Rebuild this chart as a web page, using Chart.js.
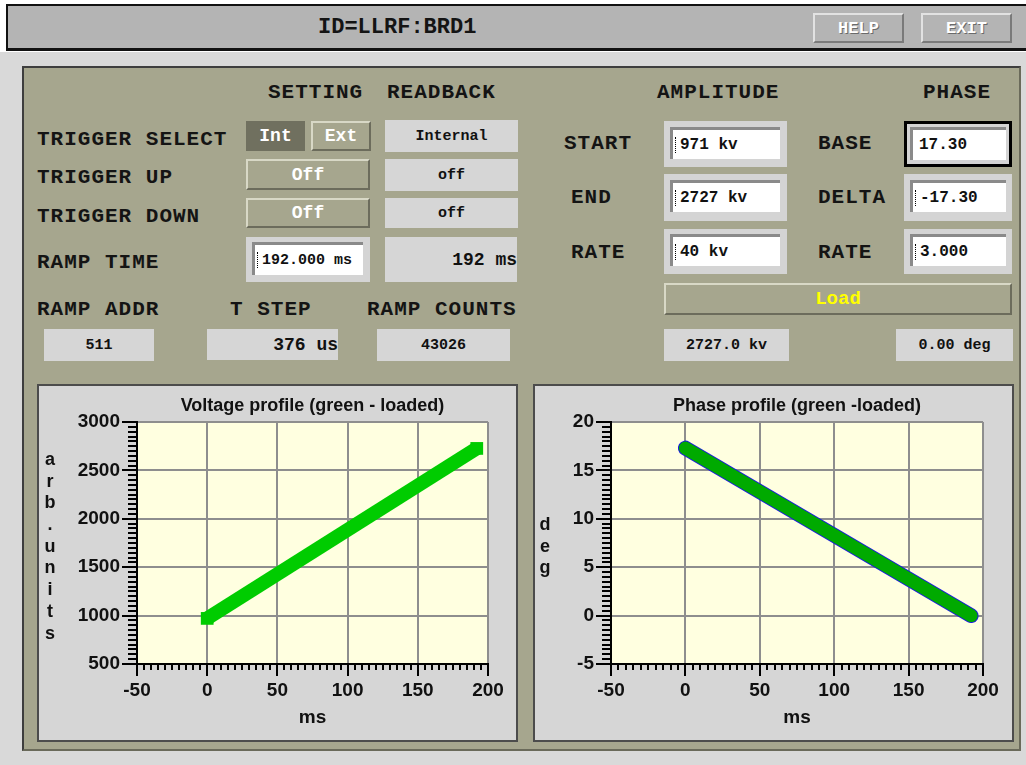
<!DOCTYPE html>
<html>
<head>
<meta charset="utf-8">
<script src="https://cdn.jsdelivr.net/npm/chart.js@4.4.1/dist/chart.umd.min.js"></script>
<style>
  html, body { margin: 0; padding: 0; }
  body { width: 1026px; height: 765px; position: relative; overflow: hidden; background: #fff; font-family: 'Liberation Mono', monospace; }
  .abs { position: absolute; box-sizing: border-box; }
  .lbl { position: absolute; font: bold 21px 'Liberation Mono', monospace; letter-spacing: 1px; color: #141414; line-height: 24px; white-space: pre; }
  .rb { position: absolute; box-sizing: border-box; background: #d6d6d6; display: flex; align-items: center; justify-content: center;
        font: bold 15px 'Liberation Mono', monospace; color: #111; white-space: pre; }
  .rb.big { font-size: 18px; justify-content: flex-end; padding-right: 0; }
  .btn { position: absolute; box-sizing: border-box; display: flex; align-items: center; justify-content: center;
         font: bold 18px 'Liberation Mono', monospace; color: #fff; background: #a6a68e;
         border: 2px solid; border-color: #d8d8c6 #6c6c5c #6c6c5c #d8d8c6; }
  .frame { position: absolute; box-sizing: border-box; background: #d4d4d4; }
  .field { position: absolute; box-sizing: border-box; background: #fff; border-top: 3px solid #8a8a8a; border-left: 3px solid #8a8a8a;
           display: flex; align-items: center; padding-left: 2px; font: bold 15px 'Liberation Mono', monospace; color: #111; white-space: pre; }
  .caret { display: inline-block; width: 3px; height: 16px; border-left: 1px dotted #000; margin-right: 1px; }
  .box { position: absolute; box-sizing: border-box; background: #d6d6d6; border: 2px solid #4c4c4c; }
  canvas { position: absolute; left: 0; top: 0; }
</style>
</head>
<body>
<!-- title bar -->
<div class="abs" style="left:6px;top:4px;width:1030px;height:47px;background:#b4b4b4;border:2px solid #111;border-bottom-width:3px;"></div>
<div class="lbl" style="left:318px;top:16px;font-family:'Liberation Mono';font-size:22px;letter-spacing:0px;">ID=LLRF:BRD1</div>
<div class="btn" style="left:813px;top:13px;width:91px;height:30px;background:#b4b4b4;border-color:#e2e2e2 #7a7a7a #7a7a7a #e2e2e2;text-shadow:1px 1px 0 #6a6a6a;font-size:17px;">HELP</div>
<div class="btn" style="left:921px;top:13px;width:91px;height:30px;background:#b4b4b4;border-color:#e2e2e2 #7a7a7a #7a7a7a #e2e2e2;text-shadow:1px 1px 0 #6a6a6a;font-size:17px;">EXIT</div>

<!-- work area -->
<div class="abs" style="left:0;top:52px;width:1026px;height:713px;background:#d9d9d9;"></div>
<div class="abs" style="left:22px;top:66px;width:999px;height:685px;background:#a6a68e;border:2px solid #3e3e3e;border-right-color:#6a6a5a;border-bottom-color:#6a6a5a;"></div>

<!-- headers -->
<div class="lbl" style="left:268px;top:81px;">SETTING</div>
<div class="lbl" style="left:387px;top:81px;">READBACK</div>
<div class="lbl" style="left:657px;top:81px;">AMPLITUDE</div>
<div class="lbl" style="left:923px;top:81px;">PHASE</div>

<div class="lbl" style="left:37px;top:128px;">TRIGGER SELECT</div>
<div class="lbl" style="left:37px;top:166px;">TRIGGER UP</div>
<div class="lbl" style="left:37px;top:205px;">TRIGGER DOWN</div>
<div class="lbl" style="left:37px;top:251px;">RAMP TIME</div>
<div class="lbl" style="left:37px;top:298px;">RAMP ADDR</div>
<div class="lbl" style="left:230px;top:298px;">T STEP</div>
<div class="lbl" style="left:367px;top:298px;">RAMP COUNTS</div>

<div class="lbl" style="left:564px;top:132px;">START</div>
<div class="lbl" style="left:571px;top:186px;">END</div>
<div class="lbl" style="left:571px;top:241px;">RATE</div>
<div class="lbl" style="left:818px;top:132px;">BASE</div>
<div class="lbl" style="left:818px;top:186px;">DELTA</div>
<div class="lbl" style="left:818px;top:241px;">RATE</div>

<!-- setting buttons -->
<div class="btn" style="left:246px;top:121px;width:59px;height:30px;background:#70705f;border-color:#70705f;">Int</div>
<div class="btn" style="left:311px;top:121px;width:60px;height:30px;">Ext</div>
<div class="btn" style="left:246px;top:159px;width:124px;height:31px;">Off</div>
<div class="btn" style="left:246px;top:198px;width:124px;height:30px;">Off</div>
<div class="frame" style="left:246px;top:237px;width:124px;height:45px;"></div>
<div class="field" style="left:252px;top:242px;width:111px;height:33px;"><span class="caret"></span>192.000 ms</div>

<!-- readbacks -->
<div class="rb" style="left:385px;top:120px;width:133px;height:32px;">Internal</div>
<div class="rb" style="left:385px;top:159px;width:133px;height:32px;">off</div>
<div class="rb" style="left:385px;top:198px;width:133px;height:30px;">off</div>
<div class="rb big" style="left:385px;top:237px;width:132px;height:45px;">192 ms</div>
<div class="rb" style="left:44px;top:329px;width:110px;height:32px;">511</div>
<div class="rb big" style="left:207px;top:329px;width:131px;height:31px;">376 us</div>
<div class="rb" style="left:377px;top:329px;width:133px;height:32px;">43026</div>
<div class="rb" style="left:664px;top:329px;width:125px;height:32px;">2727.0 kv</div>
<div class="rb" style="left:896px;top:329px;width:117px;height:32px;">0.00 deg</div>

<!-- amplitude / phase inputs -->
<div class="frame" style="left:664px;top:121px;width:123px;height:46px;"></div>
<div class="field" style="left:670px;top:127px;width:110px;height:32px;font-size:16px;"><span class="caret"></span>971 kv</div>
<div class="frame" style="left:664px;top:174px;width:123px;height:47px;"></div>
<div class="field" style="left:670px;top:180px;width:110px;height:32px;font-size:16px;"><span class="caret"></span>2727 kv</div>
<div class="frame" style="left:664px;top:229px;width:123px;height:45px;"></div>
<div class="field" style="left:670px;top:234px;width:110px;height:32px;font-size:16px;"><span class="caret"></span>40 kv</div>

<div class="frame" style="left:904px;top:121px;width:108px;height:46px;background:#d4d4d4;border:3px solid #000;"></div>
<div class="field" style="left:910px;top:127px;width:96px;height:33px;font-size:16px;padding-left:6px;">17.30</div>
<div class="frame" style="left:904px;top:174px;width:108px;height:47px;"></div>
<div class="field" style="left:910px;top:180px;width:96px;height:32px;font-size:16px;"><span class="caret"></span>-17.30</div>
<div class="frame" style="left:904px;top:229px;width:108px;height:45px;"></div>
<div class="field" style="left:910px;top:234px;width:96px;height:32px;font-size:16px;"><span class="caret"></span>3.000</div>

<div class="btn" style="left:664px;top:283px;width:348px;height:32px;color:#ffff00;font-size:19px;">Load</div>

<!-- charts -->
<div class="box" style="left:37px;top:384px;width:481px;height:358px;">
  <canvas id="voltChart" width="477" height="354"></canvas>
</div>
<div class="box" style="left:533px;top:384px;width:481px;height:358px;">
  <canvas id="phaseChart" width="477" height="354"></canvas>
</div>

<script>
// ramp profile values
const rampTimeMs = [0, 192];
const voltageKv = [971, 2727];
const phaseDeg = [17.3, 0];

const timeTicks = [-50, 0, 50, 100, 150, 200];
const voltTicks = [500, 1000, 1500, 2000, 2500, 3000];
const phaseTicks = [-5, 0, 5, 10, 15, 20];

const tickFont = { family: "'Liberation Sans', Arial, sans-serif", size: 19, weight: 'bold' };

// yellow plot area, chart title, stacked y title and minor ticks
const panelPlugin = {
    id: 'panelPlugin',
    beforeDraw(chart) {
        const a = chart.chartArea, ctx = chart.ctx;
        ctx.save();
        ctx.fillStyle = '#ffffe0';
        ctx.fillRect(a.left, a.top, a.right - a.left, a.bottom - a.top);
        ctx.restore();
    },
    afterDraw(chart, args, opts) {
        const a = chart.chartArea, ctx = chart.ctx;
        const xs = chart.scales.x, ys = chart.scales.y;
        ctx.save();
        ctx.fillStyle = '#111';
        ctx.font = "bold 18px 'Liberation Sans', Arial, sans-serif";
        ctx.textAlign = 'center';
        ctx.textBaseline = 'middle';
        ctx.fillText(opts.title, (a.left + a.right) / 2, 20);
        opts.yTitle.split('').forEach((c, i) => {
            ctx.fillText(c, opts.yTitleX, opts.yTitleTop + i * 21.7);
        });

        // minor ticks
        ctx.strokeStyle = '#000';
        ctx.lineWidth = 2;
        ctx.beginPath();
        for (let v = xs.min; v <= xs.max + 1e-9; v += opts.xMinor) {
            const px = Math.round(xs.getPixelForValue(v));
            ctx.moveTo(px, a.bottom);
            ctx.lineTo(px, a.bottom + 6);
        }
        for (let v = ys.min; v <= ys.max + 1e-9; v += opts.yMinor) {
            const py = Math.round(ys.getPixelForValue(v));
            ctx.moveTo(a.left, py);
            ctx.lineTo(a.left - 9, py);
        }
        ctx.stroke();
        ctx.restore();
    }
};

function makeScales(yTickList, yMin, yMax, yWidth) {
    return {
        x: {
            type: 'linear', min: -50, max: 200,
            afterBuildTicks: s => { s.ticks = timeTicks.map(v => ({ value: v })); },
            afterFit: s => { s.height = 76; },
            grid: { color: '#8e8e8e', lineWidth: 2, tickColor: '#000', tickLength: 12, tickWidth: 2 },
            border: { color: '#000', width: 2 },
            ticks: { font: tickFont, color: '#111', padding: 3, maxRotation: 0, callback: v => String(v) },
            title: { display: true, text: 'ms', font: tickFont, color: '#111', padding: { top: 0, bottom: 11 } }
        },
        y: {
            type: 'linear', min: yMin, max: yMax,
            afterBuildTicks: s => { s.ticks = yTickList.map(v => ({ value: v })); },
            afterFit: s => { s.width = yWidth; },
            grid: { color: '#8e8e8e', lineWidth: 2, tickColor: '#000', tickLength: 15, tickWidth: 2 },
            border: { color: '#000', width: 2 },
            ticks: { font: tickFont, color: '#111', padding: 2, callback: v => String(v) }
        }
    };
}

const baseOptions = {
    responsive: false,
    animation: false,
    events: [],
    plugins: { legend: { display: false }, tooltip: { enabled: false }, title: { display: false } }
};

new Chart(document.getElementById('voltChart'), {
    type: 'line',
    data: {
        datasets: [{
            data: rampTimeMs.map((t, i) => ({ x: t, y: voltageKv[i] })),
            borderColor: '#00cc00',
            borderWidth: 14,
            pointStyle: 'rect',
            pointRadius: 9,
            pointBackgroundColor: '#00cc00',
            pointBorderWidth: 0
        }]
    },
    options: Object.assign({}, baseOptions, {
        layout: { padding: { left: 0, top: 36, right: 28, bottom: 0 } },
        scales: makeScales(voltTicks, 500, 3000, 98),
        plugins: Object.assign({}, baseOptions.plugins, {
            panelPlugin: { title: 'Voltage profile (green - loaded)', yTitle: 'arb.units', yTitleX: 11, yTitleTop: 74, xMinor: 5, yMinor: 50 }
        })
    }),
    plugins: [panelPlugin]
});

new Chart(document.getElementById('phaseChart'), {
    type: 'line',
    data: {
        datasets: [{
            data: rampTimeMs.map((t, i) => ({ x: t, y: phaseDeg[i] })),
            borderColor: '#00aa00',
            borderWidth: 13,
            borderCapStyle: 'round',
            pointRadius: 0
        }, {
            data: rampTimeMs.map((t, i) => ({ x: t, y: phaseDeg[i] })),
            borderColor: '#1a1ae0',
            borderWidth: 15,
            borderCapStyle: 'round',
            pointRadius: 0
        }]
    },
    options: Object.assign({}, baseOptions, {
        layout: { padding: { left: 0, top: 36, right: 29, bottom: 0 } },
        scales: makeScales(phaseTicks, -5, 20, 76),
        plugins: Object.assign({}, baseOptions.plugins, {
            panelPlugin: { title: 'Phase profile (green -loaded)', yTitle: 'deg', yTitleX: 10, yTitleTop: 139, xMinor: 5, yMinor: 0.5 }
        })
    }),
    plugins: [panelPlugin]
});
</script>
</body>
</html>
